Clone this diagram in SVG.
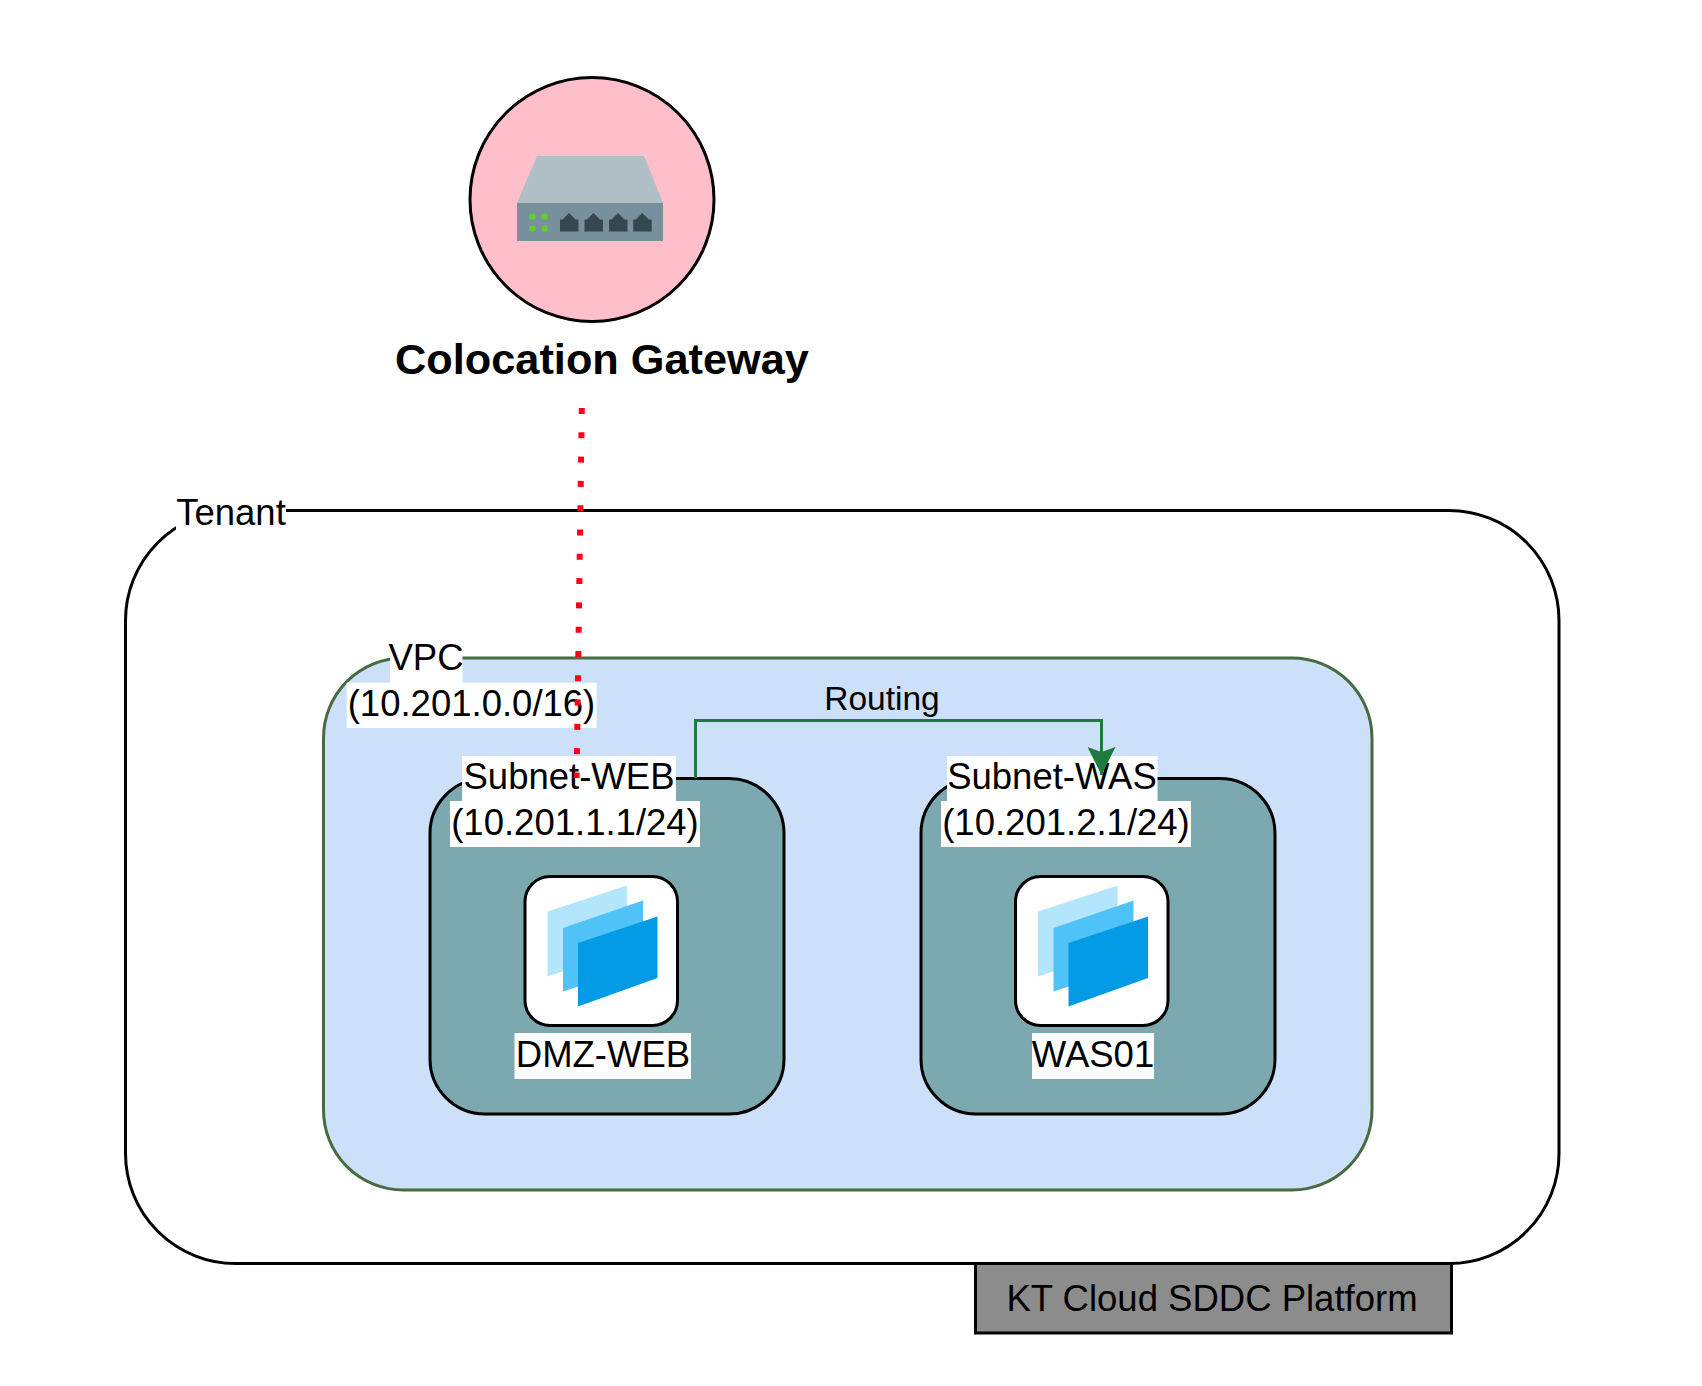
<svg xmlns="http://www.w3.org/2000/svg" xmlns:xlink="http://www.w3.org/1999/xlink" width="1702" height="1386" viewBox="0 0 1702 1386">
<style>
text{font-family:"Liberation Sans",Arial,Helvetica,sans-serif;font-size:36.500px;fill:#000;text-anchor:middle}
.bg{fill:#fff;stroke:none}
.sub{fill:#7ba9af;stroke:#000;stroke-width:3}
.box{fill:#fff;stroke:#000;stroke-width:3}
</style>
<defs>
<g id="stack">
<polygon points="547.5,911.5 627,885.5 627,950 547.5,976.5" fill="#b3e5fc"/>
<polygon points="563,928 643,900.5 643,965 563,991.5" fill="#4fc3f7"/>
<polygon points="578,943 657.5,916.5 657.5,978 578,1006.5" fill="#039be5"/>
</g>
<path id="port" d="M0 19V7H2.500L9 0.500L15.500 7H18.500V19Z" fill="#37474f"/>
<marker id="arrow" markerUnits="userSpaceOnUse" viewBox="0 0 28 28" markerWidth="28" markerHeight="28" refX="14" refY="28" orient="0">
<path d="M0 0L14 5L28 0L14 28Z" fill="#1f7a3f"/>
</marker>
</defs>
<rect width="1702" height="1386" fill="#fff"/>
<g id="tenant">
<rect x="125.500" y="510.500" width="1433.500" height="753" rx="110" ry="110" fill="#fff" stroke="#000" stroke-width="3"/>
<rect class="bg" x="176" y="490" width="110" height="46"/>
<text x="231" y="525">Tenant</text>
</g>
<g id="platform">
<rect x="975.500" y="1263.500" width="476" height="69.500" fill="#8c8c8c" stroke="#000" stroke-width="3"/>
<text x="1212" y="1311">KT Cloud SDDC Platform</text>
</g>
<g id="vpc">
<rect x="323.500" y="658" width="1048.500" height="532" rx="80" ry="80" fill="#cce0f9" stroke="#476b3f" stroke-width="3"/>
<rect class="bg" x="390" y="637" width="72.500" height="46"/>
<rect class="bg" x="346.700" y="682.700" width="250" height="45.300"/>
<text x="426" y="670">VPC</text>
<text x="471.500" y="716">(10.201.0.0/16)</text>
</g>
<g id="subnet-web">
<rect class="sub" x="430" y="778.500" width="354" height="335.500" rx="55" ry="55"/>
<rect class="bg" x="462" y="756" width="214" height="45.500"/>
<rect class="bg" x="450" y="801" width="250" height="46"/>
<text x="569" y="789">Subnet-WEB</text>
<text x="575" y="835">(10.201.1.1/24)</text>
</g>
<g id="subnet-was">
<rect class="sub" x="921" y="778.500" width="354" height="335.500" rx="55" ry="55"/>
<rect class="bg" x="947" y="756" width="210.500" height="45.500"/>
<rect class="bg" x="941" y="801" width="250" height="46"/>
<text x="1052" y="789">Subnet-WAS</text>
<text x="1066" y="835">(10.201.2.1/24)</text>
</g>
<g id="dmz-web">
<rect class="box" x="525" y="876.500" width="152.500" height="149" rx="25" ry="25"/>
<use xlink:href="#stack" href="#stack"/>
<rect class="bg" x="514.500" y="1033" width="176.500" height="46"/>
<text x="603" y="1067">DMZ-WEB</text>
</g>
<g id="was01">
<rect class="box" x="1015.500" y="876.500" width="152.500" height="149" rx="25" ry="25"/>
<use xlink:href="#stack" href="#stack" x="490.500"/>
<rect class="bg" x="1032" y="1033" width="122" height="46"/>
<text x="1093" y="1067">WAS01</text>
</g>
<g id="gateway">
<circle cx="592" cy="199.500" r="122" fill="#ffbfca" stroke="#000" stroke-width="3"/>
<polygon points="537,156 644,156 663,203 517,203" fill="#b0bec5"/>
<rect x="517" y="203" width="146" height="38" fill="#78909c"/>
<g fill="#64cc2e">
<circle cx="532.300" cy="216.500" r="3.300"/><circle cx="544.500" cy="216.500" r="3.300"/>
<circle cx="532.300" cy="228.500" r="3.300"/><circle cx="544.500" cy="228.500" r="3.300"/>
</g>
<use xlink:href="#port" href="#port" x="560" y="212.500"/>
<use xlink:href="#port" href="#port" x="584.500" y="212.500"/>
<use xlink:href="#port" href="#port" x="609" y="212.500"/>
<use xlink:href="#port" href="#port" x="633.200" y="212.500"/>
<text x="602" y="374" style="font-size:43.300px;font-weight:bold">Colocation Gateway</text>
</g>
<g id="connectors" fill="none">
<path d="M581.800 408L576.600 778" stroke="#ff0019" stroke-width="6" stroke-dasharray="6 18.300"/>
<path d="M695.500 778V720.500H1101.500V775" stroke="#1f7a3f" stroke-width="3" marker-end="url(#arrow)"/>
<text x="882" y="710" style="font-size:33.500px">Routing</text>
</g>
</svg>
